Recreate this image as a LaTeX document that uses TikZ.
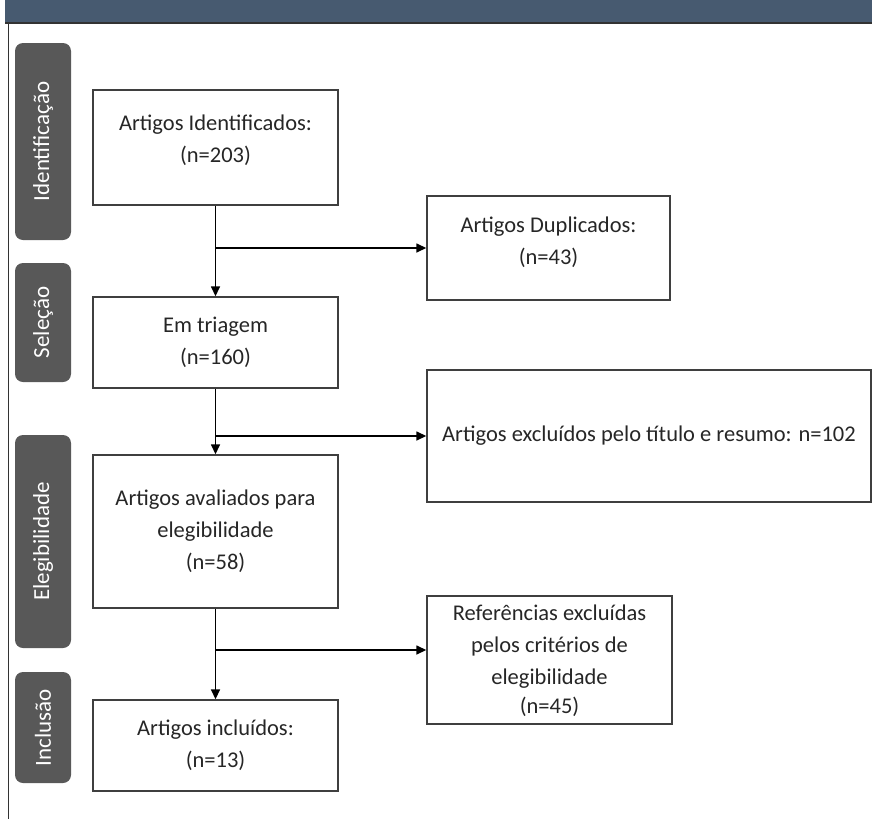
\documentclass[tikz,border=0pt]{standalone}
\usepackage{fontspec}
\setmainfont{Carlito}
\usetikzlibrary{arrows.meta,positioning}

\definecolor{headblue}{HTML}{475A70}
\definecolor{tabgray}{HTML}{585858}
\definecolor{boxline}{HTML}{3F3F3F}

\tikzset{
  stagebox/.style={draw=boxline, line width=1.4pt, align=center, inner sep=0pt,
    font=\fontsize{22.5}{32}\selectfont, text=black!85},
  phasetab/.style={fill=tabgray, rounded corners=8pt, text=white, rotate=90,
    font=\fontsize{23}{26}\selectfont, inner sep=0pt, minimum height=56pt},
  flow/.style={line width=1.5pt, -{Triangle[length=10pt,width=9pt]}},
}

\begin{document}
\begin{tikzpicture}[x=1pt,y=-1pt]
  \useasboundingbox (0,0) rectangle (872,819);

  %% header and frame
  \fill[headblue] (5,0) rectangle (872,23);
  \draw[line width=1.2pt, black!80] (5,23) -- (872,23);
  \draw[line width=1pt, black!80] (8,23) -- (8,819);

  %% phase tabs
  \node[phasetab, minimum width=197pt] (tabident) at (43,141.5) {Identificação};
  \node[phasetab, minimum width=119pt] (tabsel) at (43,322.5) {Seleção};
  \node[phasetab, minimum width=213pt] (tabeleg) at (43,541.5) {Elegibilidade};
  \node[phasetab, minimum width=111pt] (tabincl) at (43,727.5) {Inclusão};

  %% main column
  \node[stagebox, minimum width=245pt, minimum height=115pt] (ident) at (215.5,147.5)
    {Artigos Identificados:\\(n=203)\\[-14pt]\mbox{}};
  \node[stagebox, minimum width=245pt, minimum height=91pt] (triagem) at (215.5,342.5)
    {Em triagem\\(n=160)};
  \node[stagebox, minimum width=245pt, minimum height=153pt] (aval) at (215.5,531.5)
    {Artigos avaliados para\\elegibilidade\\(n=58)};
  \node[stagebox, minimum width=245pt, minimum height=91pt] (incl) at (215.5,745.5)
    {Artigos incluídos:\\(n=13)};

  %% excluded column
  \node[stagebox, minimum width=243pt, minimum height=104pt] (dup) at (548.5,248)
    {Artigos Duplicados:\\(n=43)\\[-18pt]\mbox{}};
  \node[stagebox, minimum width=444pt, minimum height=132pt] (excl) at (649,436)
    {Artigos excluídos pelo título e resumo: n=102};
  \node[stagebox, minimum width=245pt, minimum height=128pt] (ref) at (549.5,660)
    {\mbox{}\\[-14pt]Referências excluídas\\pelos critérios de\\elegibilidade\\[-3pt](n=45)};

  %% connectors
  \draw[flow] (ident) -- (triagem);
  \draw[flow] (triagem) -- (aval);
  \draw[flow] (aval) -- (incl);

  \coordinate (split1) at (ident.south |- dup.west);
  \coordinate (split2) at (triagem.south |- excl.west);
  \coordinate (split3) at (215.5,650);
  \draw[flow] (split1) -- (dup.west);
  \draw[flow] (split2) -- (excl.west);
  \draw[flow] (split3) -- (split3 -| ref.west);
\end{tikzpicture}
\end{document}
